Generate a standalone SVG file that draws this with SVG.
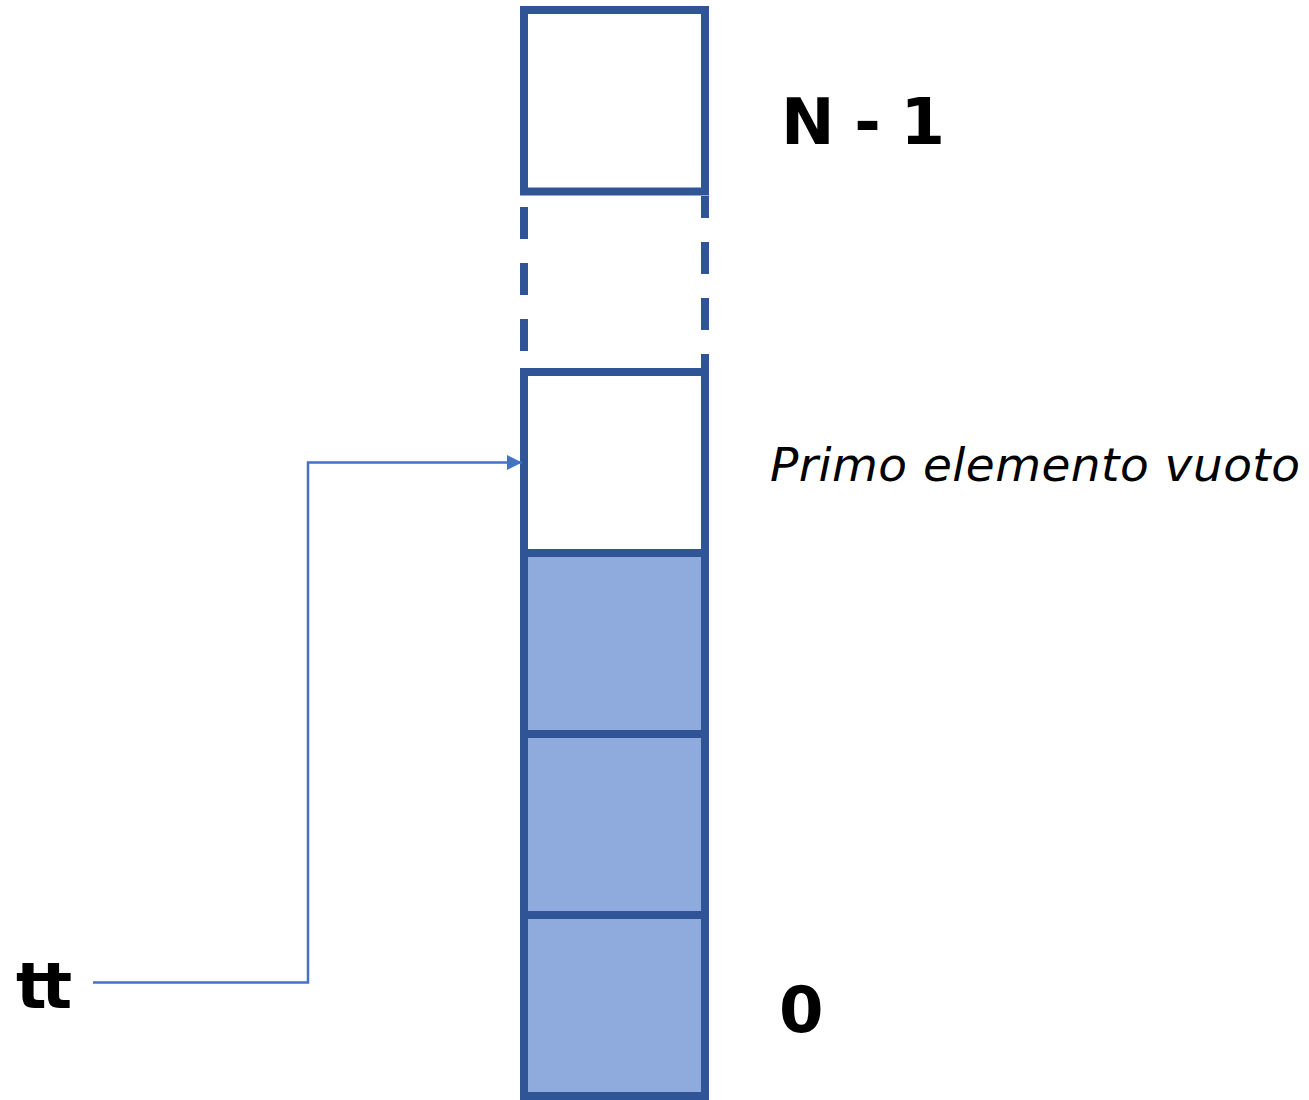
<svg xmlns="http://www.w3.org/2000/svg" width="1309" height="1100" viewBox="0 0 1309 1100">
<style>
.cell{stroke:#2F5597;stroke-width:8;}
.empty{fill:#FFFFFF;}
.full{fill:#8FAADC;}
.dash{stroke:#2F5597;stroke-width:8;fill:none;}
.conn{stroke:#4472C4;stroke-width:2.5;fill:none;}
.lbl{font-family:"DejaVu Sans",Verdana,sans-serif;font-weight:bold;font-size:64px;fill:#000;}
.note{font-family:"DejaVu Sans",Verdana,sans-serif;font-style:italic;font-size:47px;fill:#000;}
</style>
<defs>
<marker id="arr" markerUnits="userSpaceOnUse" markerWidth="16" markerHeight="16" refX="15" refY="7.5" orient="auto">
<path d="M0,0 L15,7.5 L0,15 Z" fill="#4472C4"/>
</marker>
</defs>
<rect width="1309" height="1100" fill="#FFFFFF"/>
<g id="cell-top"><rect class="cell empty" x="524" y="10" width="181" height="181.5"/></g>
<g id="gap">
<line class="dash" x1="524" y1="207" x2="524" y2="351" stroke-dasharray="32 24"/>
<line class="dash" x1="705" y1="196" x2="705" y2="372" stroke-dasharray="22 24 32 24 32 24 32 24"/>
</g>
<g id="cell-empty"><rect class="cell empty" x="524" y="372" width="181" height="181"/></g>
<g id="cell-2"><rect class="cell full" x="524" y="553" width="181" height="181"/></g>
<g id="cell-1"><rect class="cell full" x="524" y="734" width="181" height="181"/></g>
<g id="cell-0"><rect class="cell full" x="524" y="915" width="181" height="181"/></g>
<g id="connectors">
<path class="conn" d="M93,982.5 H308 V462.5 H522" marker-end="url(#arr)"/>
</g>
<g id="labels">
<text class="lbl" x="781" y="144" textLength="164">N - 1</text>
<text class="lbl" x="779" y="1032">0</text>
<text class="lbl" x="16" y="1008" textLength="56">tt</text>
<text class="note" x="770" y="481" textLength="530">Primo elemento vuoto</text>
</g>
</svg>
